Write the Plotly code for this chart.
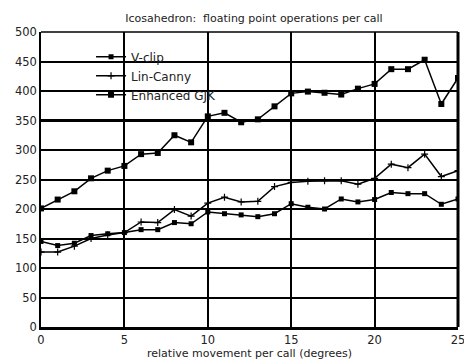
import plotly.graph_objects as go

x_deg = list(range(26))
v_clip = [145, 138, 142, 155, 158, 160, 165, 165, 177, 175, 195, 192, 190, 187, 192, 209, 203, 200, 217, 212, 216, 228, 226, 226, 208, 217]
lin_canny = [127, 127, 137, 150, 156, 160, 178, 177, 199, 188, 210, 220, 212, 213, 238, 245, 247, 248, 248, 242, 252, 276, 270, 293, 255, 265]
enhanced_gjk = [201, 216, 230, 252, 265, 273, 293, 295, 325, 313, 357, 363, 347, 352, 374, 396, 399, 397, 394, 404, 412, 437, 437, 453, 378, 422]

x_ticks = [0, 5, 10, 15, 20, 25]
y_ticks = [0, 50, 100, 150, 200, 250, 300, 350, 400, 450, 500]

FONT = "DejaVu Sans"
TXT = "#222"
fig = go.Figure()
fig.add_trace(go.Scatter(x=x_deg, y=v_clip, name="V-clip", mode="lines+markers",
                         line=dict(color="black", width=1.5),
                         marker=dict(symbol="square", size=5, color="black")))
fig.add_trace(go.Scatter(x=x_deg, y=lin_canny, name="Lin-Canny", mode="lines+markers",
                         line=dict(color="black", width=1.5),
                         marker=dict(symbol="cross-thin", size=5, line=dict(color="black", width=1.2))))
fig.add_trace(go.Scatter(x=x_deg, y=enhanced_gjk, name="Enhanced GJK", mode="lines+markers",
                         line=dict(color="black", width=1.5),
                         marker=dict(symbol="square", size=6, color="black")))

# page body adds an 8px margin, so the figure is sized to fit inside 472x361
fig.update_layout(
    width=464, height=353,
    margin=dict(l=32, r=7, t=24, b=29),
    paper_bgcolor="white", plot_bgcolor="white",
    font=dict(family=FONT, size=11, color=TXT),
    title=dict(text="Icosahedron:  floating point operations per call", x=0.53, xanchor="center",
               y=0.972, yanchor="middle", font=dict(size=11, family=FONT, color=TXT)),
    showlegend=True,
    legend=dict(x=0.12, y=0.965, xanchor="left", yanchor="top", bgcolor="rgba(0,0,0,0)",
                font=dict(size=12, family=FONT, color=TXT), tracegroupgap=0, itemwidth=30),
    xaxis=dict(range=[0, 25], tickvals=x_ticks, showgrid=True, gridcolor="black", gridwidth=1.5,
               showline=True, linecolor="black", linewidth=3, ticks="", zeroline=False,
               ticklabeloverflow="allow",
               title=dict(text="relative movement per call (degrees)", standoff=0,
                          font=dict(size=11, family=FONT, color=TXT)),
               tickfont=dict(size=11.5, family=FONT, color=TXT)),
    yaxis=dict(range=[0, 500], tickvals=y_ticks, showgrid=True, gridcolor="black", gridwidth=1.5,
               showline=True, linecolor="black", linewidth=1.5, ticks="", zeroline=False,
               tickfont=dict(size=11.5, family=FONT, color=TXT)),
    shapes=[
        dict(type="line", xref="paper", yref="paper", x0=0, x1=1, y0=1, y1=1,
             line=dict(color="black", width=1.5)),
        dict(type="line", xref="paper", yref="paper", x0=1, x1=1, y0=0, y1=1,
             line=dict(color="black", width=3)),
        dict(type="line", xref="paper", yref="y", x0=0, x1=1, y0=350, y1=350,
             line=dict(color="black", width=3), layer="below"),
    ],
)
fig.write_html("out.html")
